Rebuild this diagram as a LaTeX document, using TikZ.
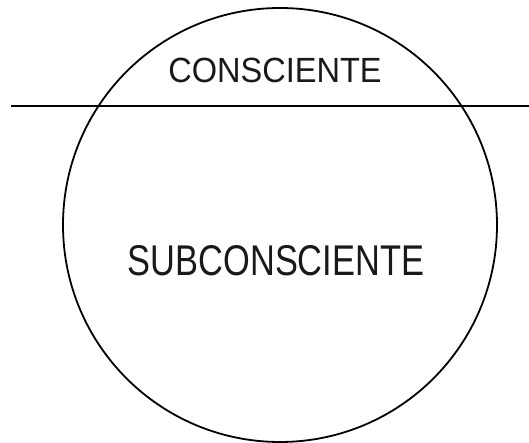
\documentclass[tikz,border=0pt]{standalone}
\usepackage{fontspec}
\setmainfont{Liberation Sans}
\begin{document}
\begin{tikzpicture}[x=1pt,y=-1pt,
  ring/.style={draw=black,line width=1.8pt,circle,minimum size=434pt,inner sep=0pt},
  lbl/.style={inner sep=0pt,text=black!90}]
\useasboundingbox (0,0) rectangle (529,443);
\node[ring] (mind) at (280,225) {};
\coordinate (l) at (11,106);
\coordinate (r) at (529,106);
\draw[line width=2pt] (l) -- (r);
\node[lbl,font=\fontsize{35}{35}\selectfont,xscale=0.93] (cons) at (275,70) {CONSCIENTE};
\node[lbl,font=\fontsize{43}{43}\selectfont,xscale=0.8] (sub) at (276,261) {SUBCONSCIENTE};
\end{tikzpicture}
\end{document}
